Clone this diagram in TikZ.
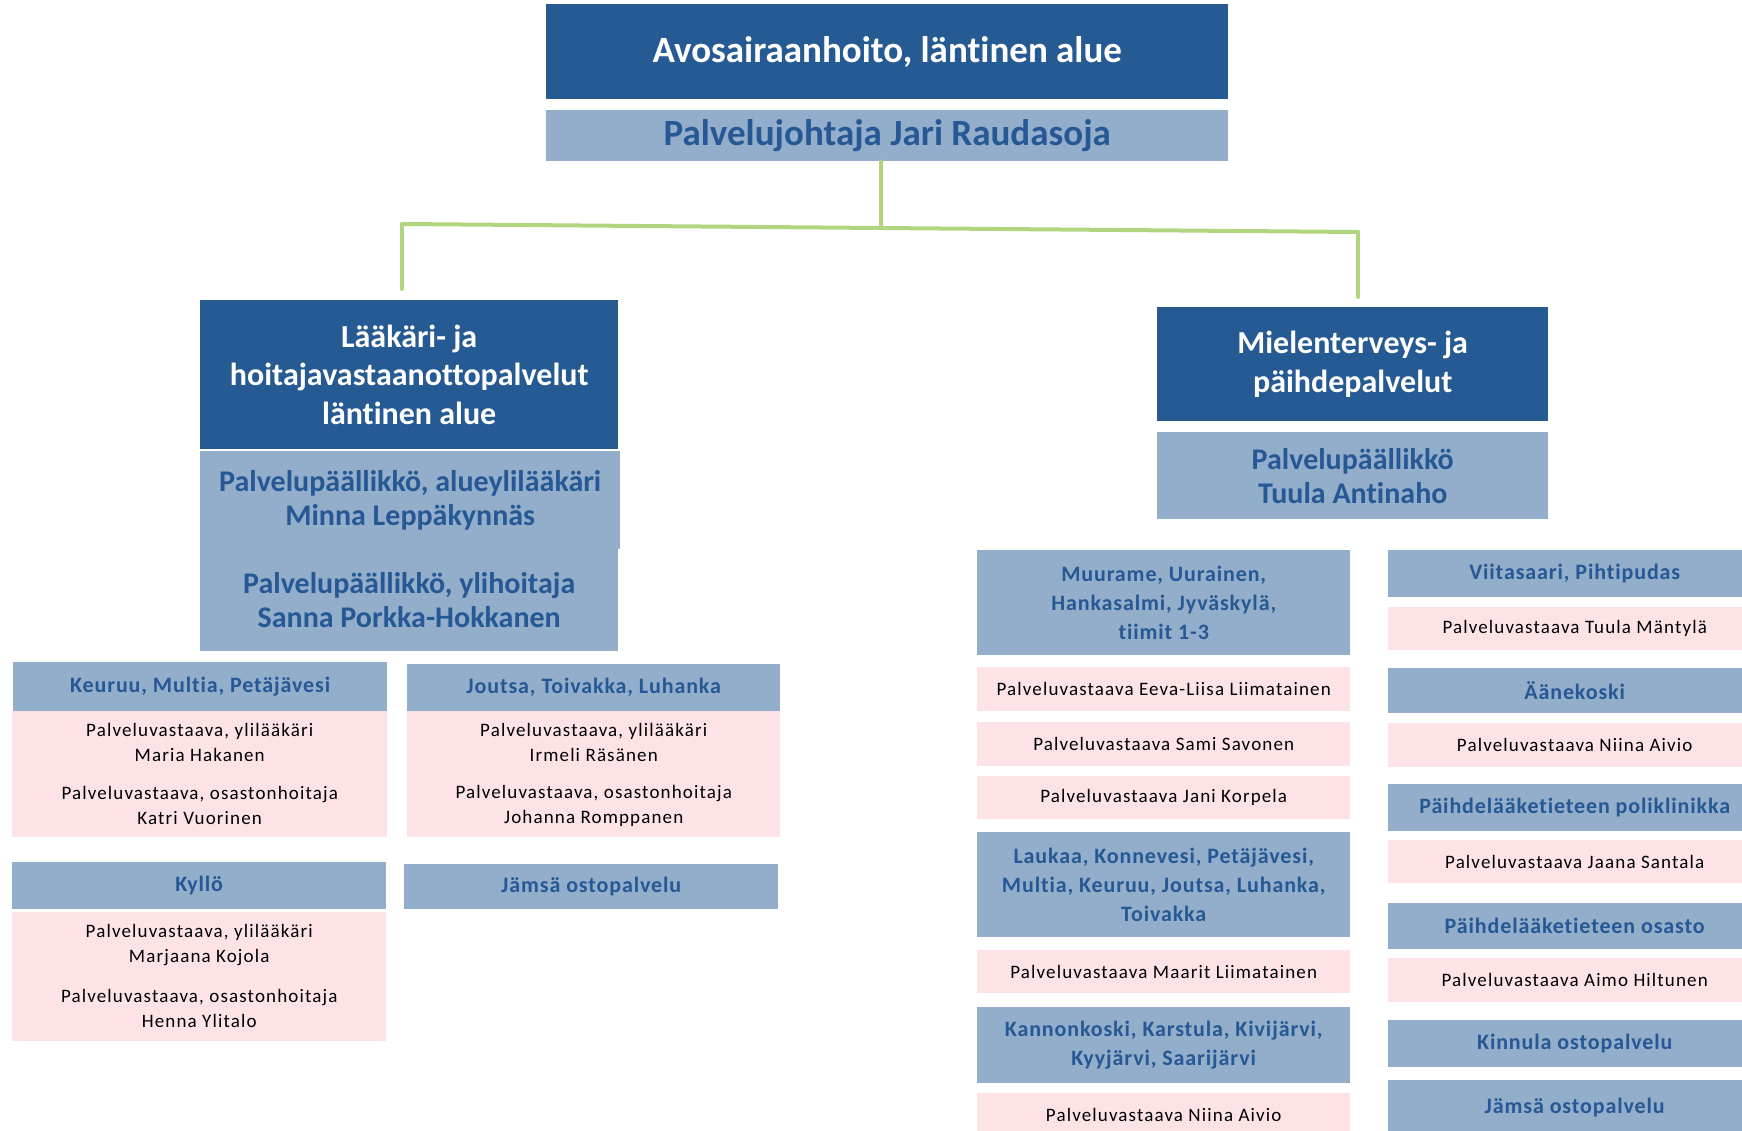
\documentclass[tikz,border=0pt]{standalone}
\usepackage{fontspec}
\setmainfont[RawFeature={-liga;-clig}]{Carlito}
\newfontfamily\headfont[LetterSpace=4, RawFeature={-liga;-clig}]{Carlito}
\newfontfamily\trackfont[LetterSpace=6, RawFeature={-liga;-clig}]{Carlito}
\definecolor{darkblue}{RGB}{38,90,147}
\definecolor{paleblue}{RGB}{147,174,202}
\definecolor{inkblue}{RGB}{37,88,148}
\definecolor{pinkfill}{RGB}{253,227,230}
\definecolor{linegreen}{RGB}{177,212,127}
\tikzset{
  cell/.style={anchor=north west, inner sep=0pt, align=center},
  topbox/.style={cell, fill=darkblue, text=white, font=\bfseries\fontsize{37}{44}\selectfont},
  chiefbox/.style={cell, fill=paleblue, text=inkblue, font=\bfseries\fontsize{37}{44}\selectfont},
  unitbox/.style={cell, fill=darkblue, text=white, font=\bfseries\fontsize{32}{38.5}\selectfont},
  headbox/.style={cell, fill=paleblue, text=inkblue, font=\bfseries\fontsize{30}{34}\selectfont},
  teambox/.style={cell, fill=paleblue, text=inkblue, minimum width=373pt, font=\headfont\bfseries\fontsize{22}{29}\selectfont},
  respbox/.style={cell, fill=pinkfill, text=black, minimum width=373pt, font=\trackfont\fontsize{19}{25.5}\selectfont}
}
\begin{document}
\begin{tikzpicture}[x=1pt, y=-1pt]
  \useasboundingbox (0,0) rectangle (1742,1131);
  \clip (0,0) rectangle (1742,1131);
  \node (alue) [topbox, minimum width=682pt, minimum height=95pt] at (546,4) {Avosairaanhoito, läntinen alue};
  \node (johtaja) [chiefbox, minimum width=682pt, minimum height=51pt] at (546,110) {Palvelujohtaja Jari Raudasoja};

  % vasen haara
  \node (laak) [unitbox, minimum width=418pt, minimum height=149pt] at (200,300) {Lääkäri- ja\\hoitajavastaanottopalvelut\\läntinen alue};
  \node (laakpp) [headbox, minimum width=420pt, minimum height=98pt] at (200,451) {Palvelupäällikkö, alueylilääkäri\\Minna Leppäkynnäs};
  \node (laakyh) [headbox, minimum width=418pt, minimum height=102pt] at (200,549) {Palvelupäällikkö, ylihoitaja\\Sanna Porkka-Hokkanen};

  \node (keuruu) [teambox, minimum width=374pt, minimum height=49pt] at (13,662) {Keuruu, Multia, Petäjävesi};
  \node (keuruu1) [respbox, minimum width=375pt, minimum height=63pt] at (12,711) {Palveluvastaava, ylilääkäri\\Maria Hakanen};
  \node (keuruu2) [respbox, minimum width=375pt, minimum height=63pt] at (12,774) {Palveluvastaava, osastonhoitaja\\Katri Vuorinen};

  \node (joutsa) [teambox, minimum height=47pt] at (407,664) {Joutsa, Toivakka, Luhanka};
  \node (joutsa1) [respbox, minimum height=63pt] at (407,711) {Palveluvastaava, ylilääkäri\\Irmeli Räsänen};
  \node (joutsa2) [respbox, minimum height=63pt] at (407,774) {Palveluvastaava, osastonhoitaja\\Johanna Romppanen};

  \node (kyllo) [teambox, minimum width=374pt, minimum height=47pt] at (12,862) {Kyllö};
  \node (kyllo1) [respbox, minimum width=374pt, minimum height=66pt] at (12,912) {Palveluvastaava, ylilääkäri\\Marjaana Kojola};
  \node (kyllo2) [respbox, minimum width=374pt, minimum height=65pt] at (12,976) {Palveluvastaava, osastonhoitaja\\Henna Ylitalo};

  \node (jamsa) [teambox, minimum width=374pt, minimum height=45pt] at (404,864) {Jämsä ostopalvelu};

  % oikea haara
  \node (mielen) [unitbox, minimum width=391pt, minimum height=114pt] at (1157,307) {Mielenterveys- ja\\päihdepalvelut};
  \node (mielenpp) [headbox, minimum width=391pt, minimum height=87pt] at (1157,432) {Palvelupäällikkö\\Tuula Antinaho};

  \node (muurame) [teambox, minimum height=105pt] at (977,550) {Muurame, Uurainen,\\Hankasalmi, Jyväskylä,\\tiimit 1-3};
  \node (eeva) [respbox, minimum height=44pt] at (977,667) {Palveluvastaava Eeva-Liisa Liimatainen};
  \node (sami) [respbox, minimum height=44pt] at (977,722) {Palveluvastaava Sami Savonen};
  \node (jani) [respbox, minimum height=43pt] at (977,776) {Palveluvastaava Jani Korpela};
  \node (laukaa) [teambox, minimum height=105pt] at (977,832) {Laukaa, Konnevesi, Petäjävesi,\\Multia, Keuruu, Joutsa, Luhanka,\\Toivakka};
  \node (maarit) [respbox, minimum height=43pt] at (977,950) {Palveluvastaava Maarit Liimatainen};
  \node (kannon) [teambox, minimum height=76pt] at (977,1007) {Kannonkoski, Karstula, Kivijärvi,\\Kyyjärvi, Saarijärvi};
  \node (niina) [respbox, minimum height=44pt] at (977,1093) {Palveluvastaava Niina Aivio};

  \node (viita) [teambox, minimum height=47pt] at (1388,550) {Viitasaari, Pihtipudas};
  \node (tuula) [respbox, minimum height=43pt] at (1388,607) {Palveluvastaava Tuula Mäntylä};
  \node (aane) [teambox, minimum height=45pt] at (1388,668) {Äänekoski};
  \node (niina2) [respbox, minimum height=44pt] at (1388,723) {Palveluvastaava Niina Aivio};
  \node (poli) [teambox, minimum height=47pt] at (1388,784) {Päihdelääketieteen poliklinikka};
  \node (jaana) [respbox, minimum height=43pt] at (1388,840) {Palveluvastaava Jaana Santala};
  \node (osasto) [teambox, minimum height=46pt] at (1388,903) {Päihdelääketieteen osasto};
  \node (aimo) [respbox, minimum height=44pt] at (1388,958) {Palveluvastaava Aimo Hiltunen};
  \node (kinnula) [teambox, minimum height=47pt] at (1388,1020) {Kinnula ostopalvelu};
  \node (jamsa2) [teambox, minimum height=55pt] at (1388,1080) {Jämsä ostopalvelu};

  \coordinate (haara) at (881,228);
  \coordinate (vasen) at (402,224);
  \coordinate (oikea) at (1358,232);
  \begin{scope}[draw=linegreen, line width=4pt, line cap=round]
    \draw (haara |- johtaja.south) to (haara);
    \draw (vasen) to (oikea);
    \draw[shorten >=11pt] (vasen) to (vasen |- laak.north);
    \draw[shorten >=10pt] (oikea) to (oikea |- mielen.north);
  \end{scope}
\end{tikzpicture}
\end{document}
